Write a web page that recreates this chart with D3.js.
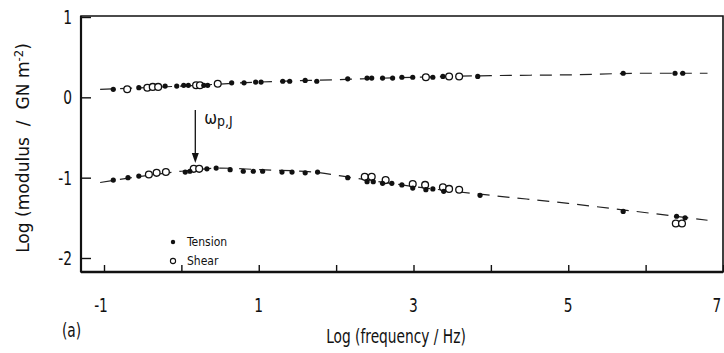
<!DOCTYPE html>
<html>
<head>
<meta charset="utf-8">
<script src="https://cdn.jsdelivr.net/npm/d3@7/dist/d3.min.js"></script>
<style>
  html, body { margin: 0; padding: 0; background: #fff; }
  svg { display: block; }
  text { font-family: "DejaVu Sans Condensed", "Liberation Sans Narrow", "Roboto", sans-serif; fill: #111; }
</style>
</head>
<body>
<svg id="chart" width="724" height="353"></svg>
<script>
// Storage (upper) and loss (lower) modulus against log frequency
const tensionUpperX = [-0.88,-0.55,-0.21,-0.06,0.03,0.09,0.29,0.34,0.65,0.81,0.96,1.03,1.31,1.40,1.60,1.75,2.15,2.40,2.46,2.60,2.73,2.85,2.99,3.25,3.38,3.83,5.71,6.38,6.48];
const tensionUpperY = [0.10,0.12,0.14,0.14,0.15,0.15,0.15,0.15,0.18,0.18,0.19,0.19,0.20,0.20,0.21,0.20,0.23,0.24,0.24,0.24,0.24,0.25,0.25,0.25,0.26,0.26,0.30,0.30,0.30];
const shearUpperX = [-0.70,-0.44,-0.37,-0.30,0.19,0.24,0.47,3.16,3.46,3.59];
const shearUpperY = [0.10,0.12,0.13,0.13,0.15,0.15,0.17,0.25,0.26,0.26];

const tensionLowerX = [-0.88,-0.69,-0.55,0.05,0.11,0.33,0.45,0.63,0.80,0.93,1.05,1.30,1.43,1.60,1.76,2.15,2.40,2.48,2.60,2.72,2.85,2.99,3.16,3.25,3.39,3.86,5.71,6.40,6.51];
const tensionLowerY = [-1.03,-1.00,-0.98,-0.93,-0.92,-0.89,-0.88,-0.90,-0.92,-0.92,-0.92,-0.93,-0.93,-0.94,-0.93,-1.00,-1.05,-1.05,-1.07,-1.07,-1.09,-1.13,-1.15,-1.14,-1.17,-1.22,-1.42,-1.48,-1.50];
const shearLowerX = [-0.42,-0.32,-0.20,0.16,0.23,2.37,2.46,2.64,2.99,3.15,3.38,3.46,3.59,6.39,6.47];
const shearLowerY = [-0.96,-0.94,-0.93,-0.89,-0.89,-0.99,-0.99,-1.03,-1.08,-1.09,-1.12,-1.14,-1.15,-1.57,-1.57];

// Hand-drawn trend curves through each set
const curveUpperX = [-1.05,0,1,2,3,4,5,6,6.8];
const curveUpperY = [0.10,0.14,0.19,0.22,0.25,0.27,0.28,0.30,0.30];
const curveLowerX = [-1.05,-0.5,0,0.5,1,1.7,2.2,3,4,5,5.7,6.8];
const curveLowerY = [-1.06,-0.98,-0.92,-0.88,-0.90,-0.93,-1.00,-1.11,-1.22,-1.32,-1.40,-1.53];

const xTicks = [-1,0,1,2,3,4,5,6,7];
const xTickLabels = ["-1","","1","","3","","5","","7"];
const yTicks = [1,0,-1,-2];
const yTickLabels = ["1","0","-1","-2"];

const svg = d3.select("#chart");
const L = 81, T = 16, R = 723, B = 272;

const x = d3.scaleLinear().domain([-1, 7]).range([104, 723]);
const y = d3.scaleLinear().domain([1, -2]).range([17, 258]);

// frame
svg.append("path")
  .attr("d", `M${L},${B} L${L},${T} L${R},${T} L${R},${B} Z`)
  .attr("fill", "none").attr("stroke", "#111").attr("stroke-width", 1.6);
svg.append("line").attr("x1", L).attr("x2", R).attr("y1", B).attr("y2", B)
  .attr("stroke", "#111").attr("stroke-width", 2.4);
svg.append("line").attr("x1", L).attr("x2", L).attr("y1", T).attr("y2", B)
  .attr("stroke", "#111").attr("stroke-width", 2.2);

// inward ticks
const xAxis = d3.axisTop(x).tickValues(xTicks).tickSize(7).tickFormat("");
const gx = svg.append("g").attr("transform", `translate(0,${B})`).call(xAxis);
gx.select(".domain").remove();
gx.selectAll(".tick line").attr("stroke", "#111").attr("stroke-width", 1.4);

const yAxis = d3.axisRight(y).tickValues(yTicks).tickSize(10).tickFormat("");
const gy = svg.append("g").attr("transform", `translate(${L},0)`).call(yAxis);
gy.select(".domain").remove();
gy.selectAll(".tick line").attr("stroke", "#111").attr("stroke-width", 1.4);

// tick labels (tall, narrow lettering)
svg.append("g").selectAll("text").data(xTicks.map((v, i) => [v, xTickLabels[i]]))
  .join("text")
  .attr("transform", d => `translate(${Math.min(x(d[0]) - (d[0] < 0 ? 3 : 0), 717)},312) scale(0.85,1.1)`)
  .attr("text-anchor", "middle")
  .attr("font-size", 18)
  .text(d => d[1]);

svg.append("g").selectAll("text").data(yTicks.map((v, i) => [v, yTickLabels[i]]))
  .join("text")
  .attr("transform", d => `translate(72,${y(d[0]) + 7}) scale(0.85,1.1)`)
  .attr("text-anchor", "end")
  .attr("font-size", 18)
  .text(d => d[1]);

// axis titles
svg.append("text").attr("transform", "translate(396,343) scale(0.9,1.1)").attr("text-anchor", "middle")
  .attr("font-size", 17).text("Log (frequency / Hz)");
svg.append("text").attr("transform", "translate(62,337) scale(0.9,1.1)").attr("font-size", 17).text("(a)");

const yt = svg.append("text")
  .attr("transform", "translate(29,148) rotate(-90) scale(1,0.92)")
  .attr("text-anchor", "middle").attr("font-size", 19);
yt.append("tspan").text("Log (modulus \u00a0/\u00a0 GN m");
yt.append("tspan").attr("dy", -7).attr("font-size", 13).text("-2");
yt.append("tspan").attr("dy", 7).text(")");

// trend curves
const curve = d3.line().x(d => x(d[0])).y(d => y(d[1])).curve(d3.curveMonotoneX);
[[curveUpperX, curveUpperY], [curveLowerX, curveLowerY]].forEach(([cx, cy]) => {
  svg.append("path")
    .datum(cx.map((v, i) => [v, cy[i]]))
    .attr("d", curve)
    .attr("fill", "none").attr("stroke", "#222").attr("stroke-width", 1.2)
    .attr("stroke-dasharray", "12,8");
});

// markers
function filled(xs, ys) {
  svg.append("g").selectAll("circle").data(xs.map((v, i) => [v, ys[i]]))
    .join("circle")
    .attr("cx", d => x(d[0])).attr("cy", d => y(d[1])).attr("r", 2.6)
    .attr("fill", "#111");
}
function open(xs, ys) {
  svg.append("g").selectAll("circle").data(xs.map((v, i) => [v, ys[i]]))
    .join("circle")
    .attr("cx", d => x(d[0])).attr("cy", d => y(d[1])).attr("r", 3.4)
    .attr("fill", "#fff").attr("stroke", "#111").attr("stroke-width", 1.3);
}
open(shearUpperX, shearUpperY);
filled(tensionUpperX, tensionUpperY);
open(shearLowerX, shearLowerY);
filled(tensionLowerX, tensionLowerY);

// arrow marking the transition frequency
const arrowX = 0.18;
svg.append("line").attr("x1", x(arrowX)).attr("x2", x(arrowX))
  .attr("y1", 110).attr("y2", 156)
  .attr("stroke", "#111").attr("stroke-width", 1.3);
svg.append("path")
  .attr("d", `M${x(arrowX) - 3.5},${153} L${x(arrowX) + 3.5},${153} L${x(arrowX)},${163} Z`)
  .attr("fill", "#111");
const wl = svg.append("text").attr("x", x(arrowX) + 9).attr("y", 124).attr("font-size", 17);
wl.append("tspan").text("ω");
wl.append("tspan").attr("font-size", 14).attr("dy", 2).text("p,J");

// legend
svg.append("circle").attr("cx", 173).attr("cy", 242).attr("r", 2.2).attr("fill", "#111");
svg.append("text").attr("x", 187).attr("y", 246).attr("font-size", 12).text("Tension");
svg.append("circle").attr("cx", 173).attr("cy", 261).attr("r", 2.6)
  .attr("fill", "#fff").attr("stroke", "#111").attr("stroke-width", 1.1);
svg.append("text").attr("x", 187).attr("y", 265).attr("font-size", 12).text("Shear");
</script>
</body>
</html>
